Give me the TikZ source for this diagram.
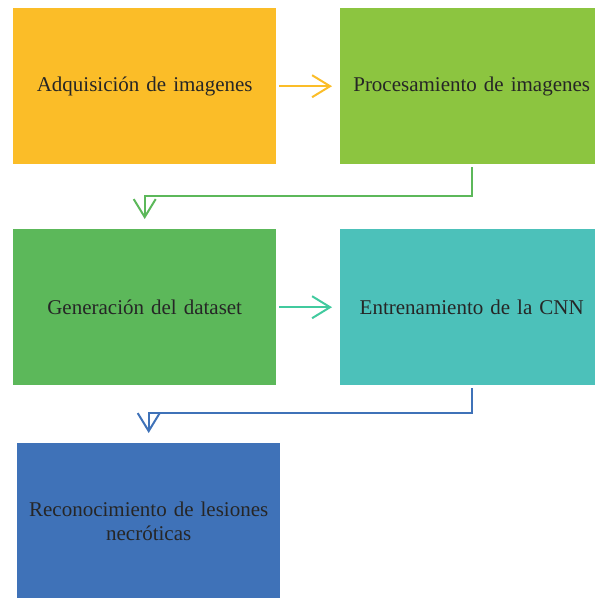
\documentclass[tikz,border=0pt]{standalone}
\usepackage{fontspec}
\setmainfont{Liberation Serif}
\usetikzlibrary{arrows.meta}
\definecolor{cOrange}{HTML}{FBBD28}
\definecolor{cLime}{HTML}{8CC540}
\definecolor{cGreen}{HTML}{5CB85A}
\definecolor{cTeal}{HTML}{4CC1BA}
\definecolor{cBlue}{HTML}{3F72B8}
\definecolor{cText}{HTML}{262626}
\begin{document}
\begin{tikzpicture}[x=1pt,y=-1pt,
  box/.style={minimum width=263pt,minimum height=156pt,inner sep=0pt,anchor=north west,
    text=cText,font=\fontsize{21}{24}\selectfont,align=center,text width=255pt},
  conn/.style={line width=2pt,-{Straight Barb[length=18pt,width=22pt,line width=2pt]}}]
\useasboundingbox (0,0) rectangle (595,598);
\clip (0,0) rectangle (595,598);
\node[box,fill=cOrange] (b1) at (13,8) {Adquisición de imagenes};
\node[box,fill=cLime] (b2) at (340,8) {Procesamiento de imagenes};
\node[box,fill=cGreen] (b3) at (13,229) {Generación del dataset};
\node[box,fill=cTeal] (b4) at (340,229) {Entrenamiento de la CNN};
\node[box,fill=cBlue] (b5) at (17,443) {Reconocimiento de lesiones\\necróticas};
\coordinate (a1s) at ([xshift=3pt]b1.east);
\coordinate (a1e) at ([xshift=-8pt]b2.west);
\draw[conn,cOrange] (a1s) -- (a1e);
\coordinate (a3s) at ([xshift=3pt]b3.east);
\coordinate (a3e) at ([xshift=-8pt]b4.west);
\draw[conn,cTeal!85!green] (a3s) -- (a3e);
\coordinate (c2s) at ([yshift=-3pt]b2.south);
\coordinate (c2e) at ([yshift=10pt]b3.north);
\draw[conn,cGreen] (c2s) -- ++(0,29) -| (c2e);
\coordinate (c4s) at ([yshift=-3pt]b4.south);
\coordinate (c4e) at ([yshift=10pt]b5.north);
\draw[conn,cBlue] (c4s) -- ++(0,25) -| (c4e);
\end{tikzpicture}
\end{document}
